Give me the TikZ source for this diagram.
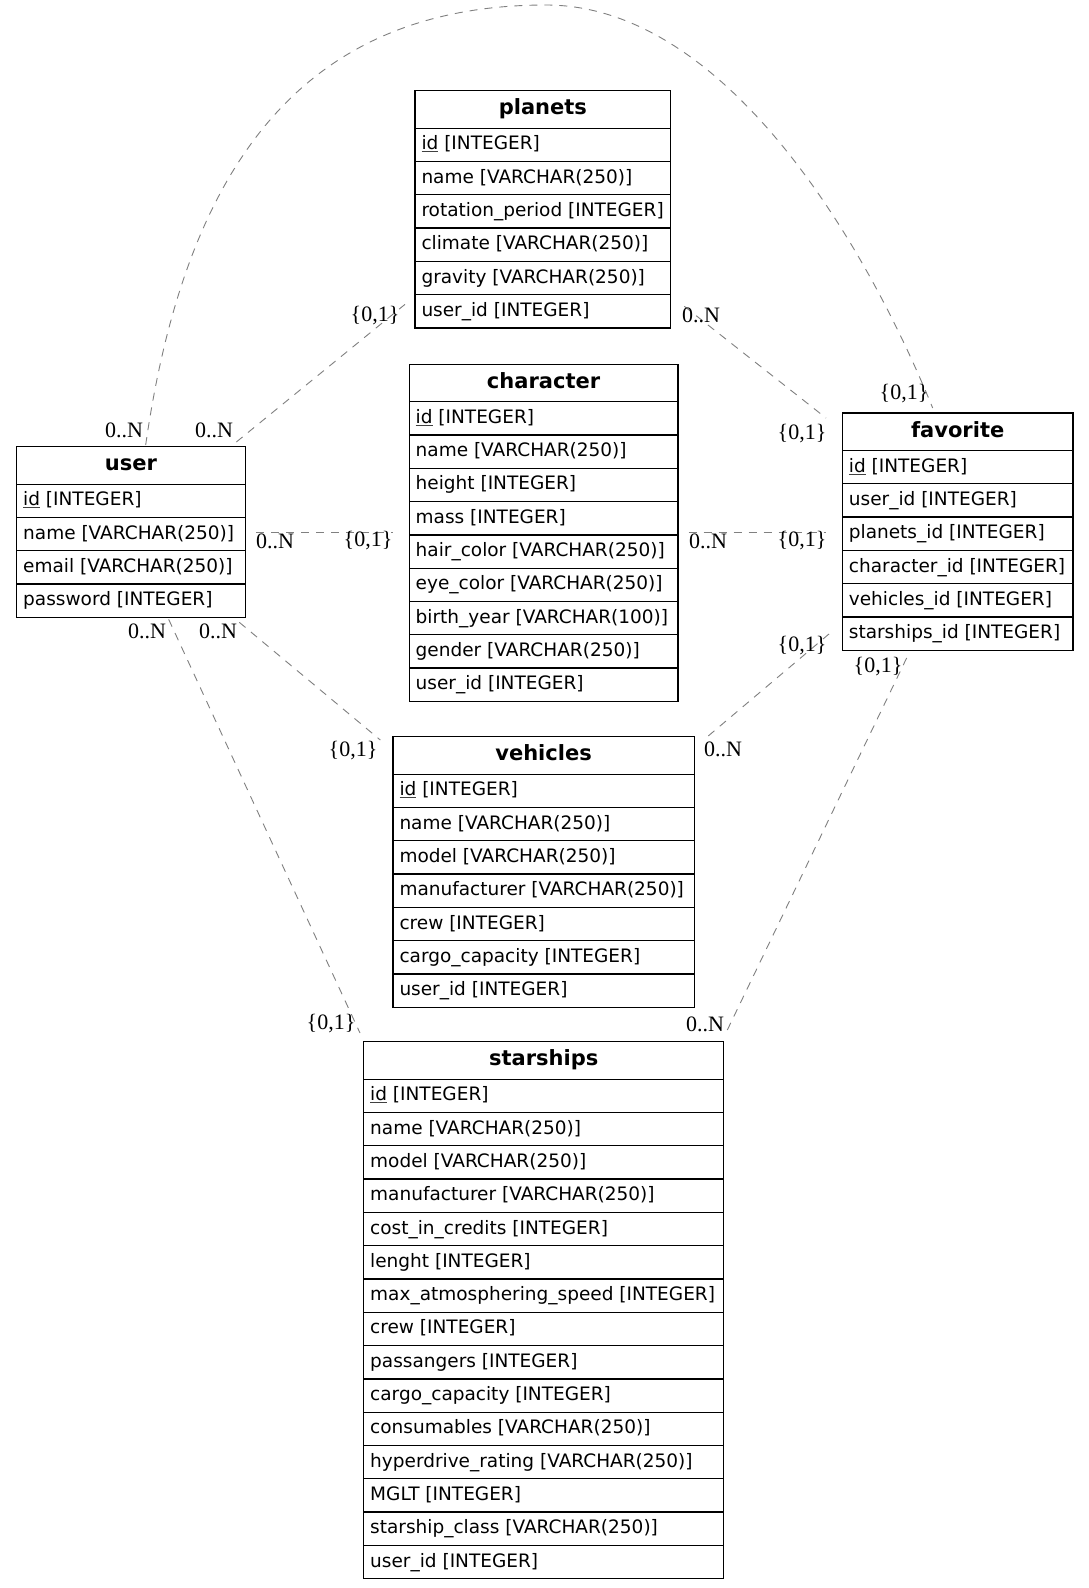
\documentclass[tikz,border=0pt]{standalone}
\usepackage{fontspec}
\setmainfont{DejaVu Sans}
\newfontfamily\lblfont{Liberation Serif}
\usetikzlibrary{calc}

\newcommand{\pkey}[1]{{\color{darkgray}\underline{\color{black}#1}}}

\tikzset{
  tblframe/.style={draw=black, line width=1.35pt, anchor=north west, inner sep=0pt, fill=white},
  tblhead/.style={draw=black, line width=1.35pt, anchor=north west, inner sep=0pt, minimum height=37.5pt},
  tblrowbox/.style={draw=black, line width=1.35pt, anchor=north west, inner sep=0pt, minimum height=33.3pt},
  headtext/.style={anchor=base, inner sep=0pt, font=\fontsize{21}{25}\selectfont\bfseries},
  rowtext/.style={anchor=base west, inner sep=0pt, font=\fontsize{18.5}{22}\selectfont},
  rel/.style={draw=gray, line width=0.9pt, dash pattern=on 8pt off 7pt},
  card/.style={inner sep=0pt, font=\lblfont\fontsize{22}{26}\selectfont},
}

% name, x, y, width, nrows, title, rows
\newcommand{\erdtable}[7]{%
  \pgfmathsetmacro\erdH{37.5+33.3*#5}%
  \node[tblframe, minimum width=#4pt, minimum height=\erdH pt] (#1) at (#2,#3) {};
  \node[tblhead, minimum width=#4pt] (#1-h) at (#2,#3) {};
  \node[headtext] (#1-ht) at ($(#1-h.center)+(0,5.5)$) {#6};
  \foreach \r [count=\i] in {#7} {
    \pgfmathsetmacro\yt{#3+37.5+33.3*(\i-1)}
    \node[tblrowbox, minimum width=#4pt] (#1-\i) at (#2,\yt) {};
    \node[rowtext] (#1-\i-t) at ($(#1-\i.west)+(7,5)$) {\r};
  }
}

\begin{document}
\begin{tikzpicture}[x=1pt,y=-1pt]
\fill[white] (0,0) rectangle (1088,1588);
\useasboundingbox (0,0) rectangle (1088,1588);

\erdtable{user}{16}{446}{228.5}{4}{user}{%
  \pkey{id} [INTEGER],
  name [VARCHAR(250)],
  email [VARCHAR(250)],
  password [INTEGER]}

\erdtable{planets}{414.3}{90}{255.7}{6}{planets}{%
  \pkey{id} [INTEGER],
  name [VARCHAR(250)],
  rotation\_period [INTEGER],
  climate [VARCHAR(250)],
  gravity [VARCHAR(250)],
  user\_id [INTEGER]}

\erdtable{character}{408.5}{363.5}{268.8}{9}{character}{%
  \pkey{id} [INTEGER],
  name [VARCHAR(250)],
  height [INTEGER],
  mass [INTEGER],
  hair\_color [VARCHAR(250)],
  eye\_color [VARCHAR(250)],
  birth\_year [VARCHAR(100)],
  gender [VARCHAR(250)],
  user\_id [INTEGER]}

\erdtable{favorite}{841.7}{412.3}{230.6}{6}{favorite}{%
  \pkey{id} [INTEGER],
  user\_id [INTEGER],
  planets\_id [INTEGER],
  character\_id [INTEGER],
  vehicles\_id [INTEGER],
  starships\_id [INTEGER]}

\erdtable{vehicles}{392.3}{736}{301.2}{7}{vehicles}{%
  \pkey{id} [INTEGER],
  name [VARCHAR(250)],
  model [VARCHAR(250)],
  manufacturer [VARCHAR(250)],
  crew [INTEGER],
  cargo\_capacity [INTEGER],
  user\_id [INTEGER]}

\erdtable{starships}{363}{1041}{360}{15}{starships}{%
  \pkey{id} [INTEGER],
  name [VARCHAR(250)],
  model [VARCHAR(250)],
  manufacturer [VARCHAR(250)],
  cost\_in\_credits [INTEGER],
  lenght [INTEGER],
  max\_atmosphering\_speed [INTEGER],
  crew [INTEGER],
  passangers [INTEGER],
  cargo\_capacity [INTEGER],
  consumables [VARCHAR(250)],
  hyperdrive\_rating [VARCHAR(250)],
  MGLT [INTEGER],
  starship\_class [VARCHAR(250)],
  user\_id [INTEGER]}

% connectors
\coordinate (arcpeak) at (546,5);
\draw[rel] ($(user.north)+(14.75,-1)$) .. controls (185,170) and (300,5) .. (arcpeak)
           .. controls (720,5) and (860,230) .. ($(favorite.north)+(-25,-4.3)$);
\draw[rel] ($(user.north east)+(-9.5,-4)$) -- ($(planets.south west)+(-9.3,-24.3)$);
\draw[rel] ($(planets.south east)+(13,-22.3)$) -- ($(favorite.north west)+(-15.7,5.7)$);
\draw[rel] ($(user.east)+(10.5,0)$) -- ($(user.east -| character.west)+(-16,0)$);
\draw[rel] ($(character.east)+(10,0)$) -- ($(character.east -| favorite.west)+(-16,0)$);
\draw[rel] ($(favorite.south west)+(-12.7,-17)$) -- ($(vehicles.north east)+(11,2)$);
\draw[rel] ($(favorite.south)+(-51,7)$) -- ($(starships.north east)+(2,-9)$);
\draw[rel] ($(user.south)+(37.75,1.3)$) -- ($(starships.north west)+(-3,-8)$);
\draw[rel] ($(user.south east)+(-6.5,4.3)$) -- ($(vehicles.north west)+(-12,4)$);

% cardinalities
\node[card] (l1a) at (124,430) {0..N};
\node[card] (l1b) at (904,394) {\{0,1\}};
\node[card] (l2a) at (214,430) {0..N};
\node[card] (l2b) at (375,316) {\{0,1\}};
\node[card] (l3a) at (701,315) {0..N};
\node[card] (l3b) at (802,434) {\{0,1\}};
\node[card] (l4a) at (275,541) {0..N};
\node[card] (l4b) at (368,541) {\{0,1\}};
\node[card] (l5a) at (708,541) {0..N};
\node[card] (l5b) at (802,541) {\{0,1\}};
\node[card] (l6a) at (802,646) {\{0,1\}};
\node[card] (l6b) at (723,749) {0..N};
\node[card] (l7a) at (878,667) {\{0,1\}};
\node[card] (l7b) at (705,1024) {0..N};
\node[card] (l8a) at (147,631) {0..N};
\node[card] (l8b) at (331,1024) {\{0,1\}};
\node[card] (l9a) at (218,631) {0..N};
\node[card] (l9b) at (353,751) {\{0,1\}};
\end{tikzpicture}
\end{document}
